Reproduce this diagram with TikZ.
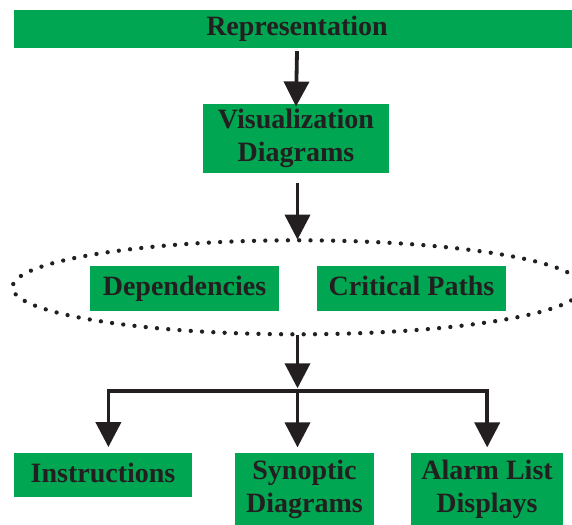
\documentclass[tikz,border=0pt]{standalone}
\usepackage{fontspec}
\setmainfont{Liberation Serif}
\usetikzlibrary{shapes.geometric,arrows.meta,calc}
\definecolor{boxgreen}{HTML}{00A651}
\definecolor{ink}{HTML}{231F20}
\begin{document}
\begin{tikzpicture}[x=1pt,y=1pt,
  gbox/.style={fill=boxgreen,inner sep=0pt,text=ink,align=center,
    font=\fontsize{28}{32.5}\selectfont\bfseries},
  onebox/.style={gbox,text height=19.6pt,text depth=5.6pt},
  conn/.style={draw=ink,line width=3.8pt},
  arr/.style={conn,-{Triangle[width=25pt,length=25pt]}},
  dotell/.style={ellipse,draw=ink,line width=4.3pt,line cap=round,
    dash pattern=on 0pt off 11.3pt,inner sep=0pt}]
\useasboundingbox (0,0) rectangle (572,-524);
% nodes
\node[onebox,minimum width=566pt,minimum height=38pt] (rep) at (297,-29) {Representation};
\node[gbox,minimum width=186pt,minimum height=69pt] (vis) at (296,-138.5) {Visualization\\Diagrams};
\node[dotell,minimum width=570pt,minimum height=94pt] (ell) at (297.5,-287.3) {};
\node[onebox,minimum width=189pt,minimum height=45pt] (dep) at (184.5,-288.5) {Dependencies};
\node[onebox,minimum width=189pt,minimum height=45pt] (crit) at (411.5,-288.5) {Critical Paths};
\node[onebox,minimum width=178pt,minimum height=44.6pt] (inst) at (103,-475) {Instructions};
\node[gbox,minimum width=139pt,minimum height=73pt] (syn) at (304.5,-489.5) {Synoptic\\Diagrams};
\node[gbox,minimum width=152pt,minimum height=73pt] (alarm) at (487,-489.5) {Alarm List\\Displays};
% junction points
\coordinate (hub) at (297.5,-390.7);
\coordinate (bl) at (108.4,-390.7);
\coordinate (bm) at (297.5,-390.7);
\coordinate (brr) at (487.2,-390.7);
% connectors
\draw[arr] ($(rep.south)+(0,-3)$) -- ($(vis.north)+(0,-2.7)$);
\draw[arr] ($(vis.south -| ell.north)+(0,-10)$) -- ($(ell.north)+(0,-1.5)$);
\draw[arr] ($(ell.south)+(0,1)$) -- ($(hub)+(0,2.4)$);
\draw[conn,line cap=rect] (bl) -- (brr);
\draw[arr] (bl) -- ($(bl |- inst.north)+(0,5.4)$);
\draw[arr] (bm) -- ($(bm |- syn.north)+(0,5.4)$);
\draw[arr] (brr) -- ($(brr |- alarm.north)+(0,5.4)$);
\end{tikzpicture}
\end{document}
